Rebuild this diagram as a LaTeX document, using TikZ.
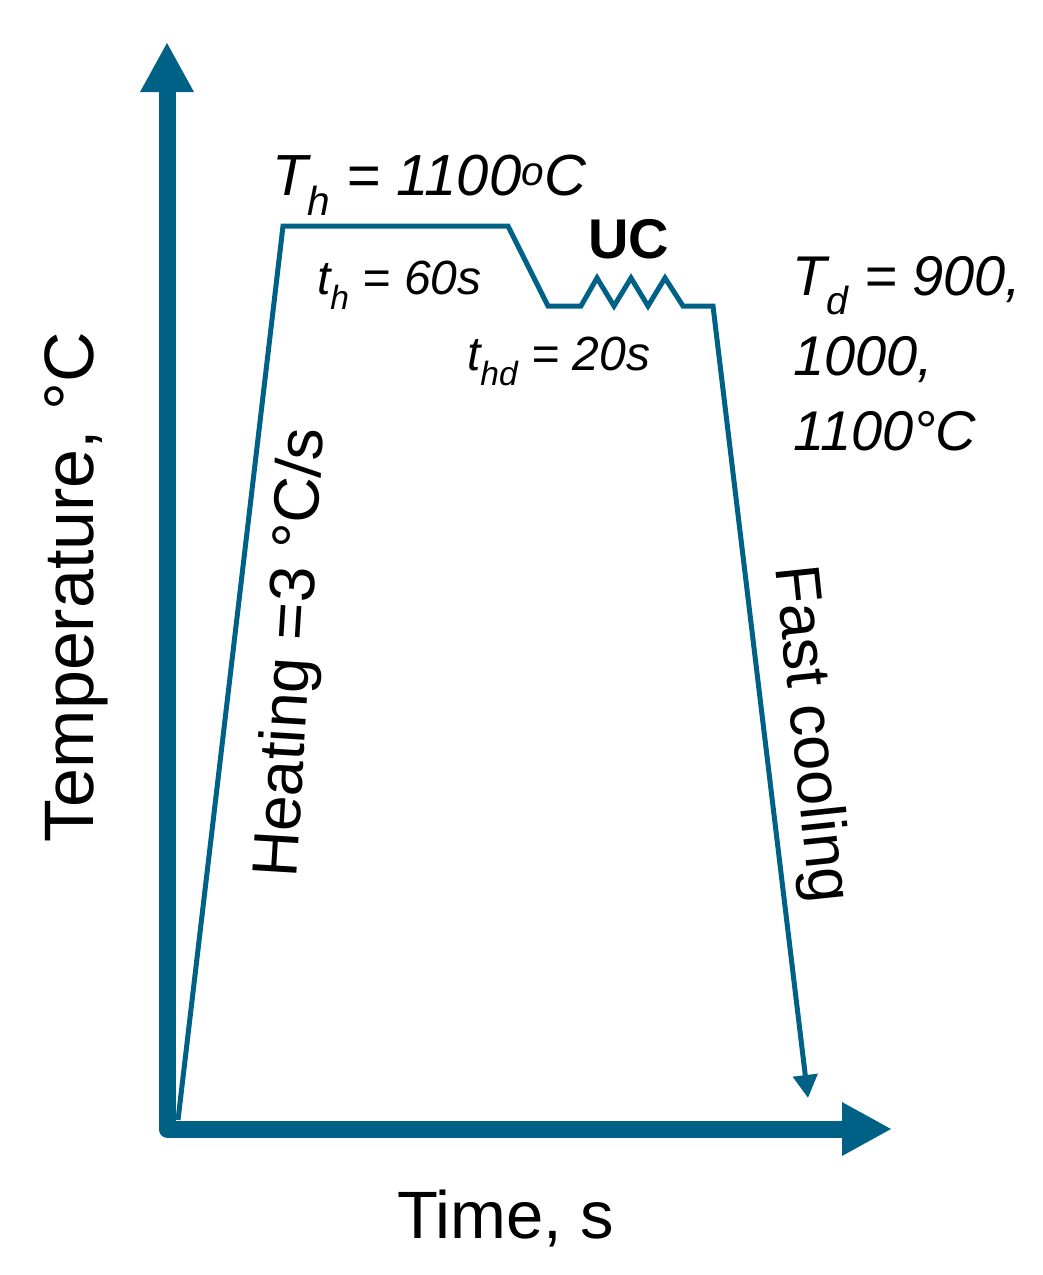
\documentclass[tikz,border=0pt]{standalone}
\usepackage{fontspec}
\setmainfont{Liberation Sans}
\usetikzlibrary{arrows.meta}
\definecolor{tealline}{RGB}{0,97,134}
\newcommand\myfs[1]{\fontsize{#1}{#1}\selectfont}
\begin{document}
\begin{tikzpicture}[x=1pt,y=-1pt,
  axisline/.style={draw=tealline, line width=17pt, line join=round,
    {Triangle[length=50pt,width=50pt]}-{Triangle[length=50pt,width=50pt]}},
  profile/.style={draw=tealline, line width=5pt, line join=miter,
    -{Triangle[length=23pt,width=24pt]}},
  lbl/.style={inner sep=0pt, outer sep=0pt, text=black}]
\useasboundingbox (0,0) rectangle (1043,1275);
% axes
\coordinate (ytip) at (167,42);
\coordinate (origin) at (167,1129);
\coordinate (xtip) at (892,1129);
\draw[axisline] (ytip) -- (origin) -- (xtip);
% profile
\coordinate (p0) at (178,1120);
\coordinate (p1) at (283,226);
\coordinate (p2) at (508,226);
\coordinate (p3) at (548,306);
\coordinate (p4) at (581,306);
\coordinate (z1) at (597,278);
\coordinate (z2) at (614,306);
\coordinate (z3) at (631,278);
\coordinate (z4) at (648,306);
\coordinate (z5) at (665,278);
\coordinate (p5) at (683,306);
\coordinate (p6) at (713,306);
\coordinate (pend) at (808,1098);
\draw[profile] (p0) -- (p1) -- (p2) -- (p3) -- (p4) -- (z1) -- (z2) -- (z3) -- (z4) -- (z5) -- (p5) -- (p6) -- (pend);
% labels
\node[lbl, anchor=base west, font=\myfs{58}\itshape] (Th) at (272,195) {T\textsubscript{h} = 1100\textsuperscript{o}C};
\node[lbl, anchor=base west, font=\myfs{48}\itshape] (th) at (317,294) {t\textsubscript{h} = 60s};
\node[lbl, anchor=base west, font=\myfs{48}\itshape] (thd) at (467,370) {t\textsubscript{hd} = 20s};
\node[lbl, anchor=base west, font=\myfs{56}\bfseries] (uc) at (588,258) {UC};
\node[lbl, anchor=base west, font=\myfs{56}\itshape] (td1) at (792,295) {T\textsubscript{d} = 900,};
\node[lbl, anchor=base west, font=\myfs{56}\itshape] (td2) at (793,375) {1000,};
\node[lbl, anchor=base west, font=\myfs{56}\itshape] (td3) at (793,450) {1100°C};
\node[lbl, anchor=base west, font=\myfs{67}] (timelbl) at (397,1238) {Time, s};
\node[lbl, anchor=base, rotate=90, font=\myfs{70}] (templbl) at (93,587) {Temperature, °C};
\node[lbl, anchor=base, rotate=86.5, font=\myfs{64}] (heat) at (310,654) {Heating =3 °C/s};
\node[lbl, anchor=base, rotate=-84, font=\myfs{63}] (cool) at (793,736) {Fast cooling};
\end{tikzpicture}
\end{document}
